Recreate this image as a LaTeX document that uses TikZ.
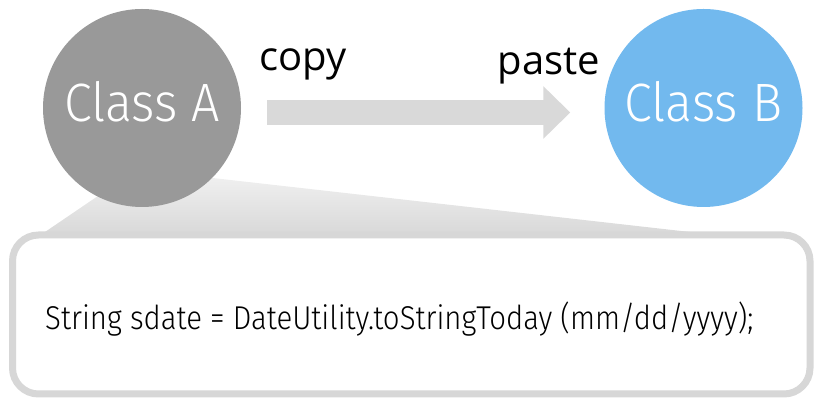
\documentclass[tikz,border=0pt]{standalone}
\usepackage{fontspec}
\setmainfont{Fira Sans}
\newfontfamily\lightfont{Fira Sans Light}[FakeStretch=0.93]
\newfontfamily\labelfont{Open Sans}
\newfontfamily\codefont{Fira Sans Light}[FakeStretch=0.89]
\usetikzlibrary{arrows.meta,calc}
\definecolor{classgray}{HTML}{999999}
\definecolor{classblue}{HTML}{72B9EE}
\definecolor{arrowgray}{HTML}{D9D9D9}
\definecolor{boxgray}{HTML}{D7D7D7}

\begin{document}
\begin{tikzpicture}[x=1pt,y=1pt,inner sep=0pt,
  classnode/.style={circle,minimum size=198pt,text=white,
    font=\lightfont\fontsize{54}{54}\selectfont,text height=40pt,text depth=13pt},
  actlabel/.style={anchor=base,font=\labelfont\fontsize{40}{40}\selectfont},
  bigarrow/.style={arrowgray,line width=25pt,-{Triangle[length=27pt,width=51pt]}}]
\useasboundingbox (0,0) rectangle (814,398);

% callout wedge and code box
\shade[top color=black!5,bottom color=boxgray]
  (120,217) -- (142,228) -- (690,166) -- (690,160) -- (36,160) -- (45,166) -- cycle;
\draw[boxgray,line width=7pt,fill=white,rounded corners=26pt] (12.5,4) rectangle (810,163);
\node[anchor=base west,font=\codefont\fontsize{33}{33}\selectfont] (code) at (45,68)
  {String sdate = DateUtility.toStringToday (mm/dd/yyyy);};

\node[classnode,fill=classgray] (classA) at (142,290) {Class A};
\node[classnode,fill=classblue] (classB) at (703.5,290) {Class B};

\node[actlabel] (copy) at (303,327) {copy};
\node[actlabel] (paste) at (549,323) {paste};

\draw[bigarrow,shorten <=26pt,shorten >=34pt]
  ([yshift=-4.5pt]classA.east) -- ([yshift=-4.5pt]classB.west);

\end{tikzpicture}
\end{document}
